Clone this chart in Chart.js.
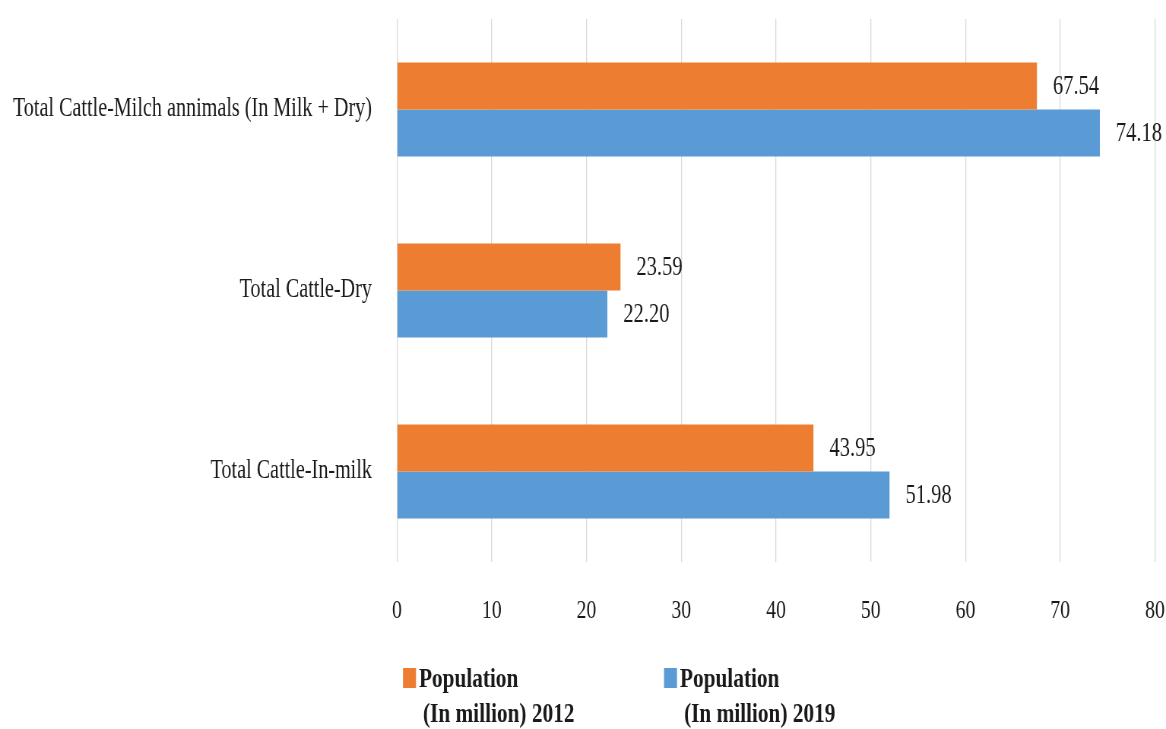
<!DOCTYPE html>
<html><head><meta charset="utf-8">
<script src="https://cdn.jsdelivr.net/npm/chart.js@4.4.0/dist/chart.umd.min.js"></script>
<style>
html,body{margin:0;padding:0;background:#fff;overflow:hidden}
#c{display:block}
</style></head><body>
<canvas id="c" width="1534" height="729" style="width:1166px;height:729px"></canvas>
<script>
const categories = ['Total Cattle-Milch annimals (In Milk + Dry)', 'Total Cattle-Dry', 'Total Cattle-In-milk'];
const population2012 = [67.54, 23.59, 43.95];
const population2019 = [74.18, 22.20, 51.98];
const seriesLabels = [['Population', '(In million) 2012'], ['Population', '(In million) 2019']];
const xTicks = [0, 10, 20, 30, 40, 50, 60, 70, 80];

const SX = 1166 / 1534; // horizontal display scale of the canvas bitmap
const TEXT = '#1a1a1a';

const valueLabels = {
  id: 'valueLabels',
  afterDatasetsDraw(chart) {
    const ctx = chart.ctx;
    ctx.save();
    ctx.font = '27px "Liberation Serif"';
    ctx.fillStyle = TEXT;
    ctx.textAlign = 'left';
    ctx.textBaseline = 'middle';
    chart.data.datasets.forEach((ds, i) => {
      chart.getDatasetMeta(i).data.forEach((el, j) => {
        ctx.fillText(ds.data[j].toFixed(2), el.x + 21, el.y + 1);
      });
    });
    ctx.restore();
  }
};

const bottomLegend = {
  id: 'bottomLegend',
  afterDraw(chart) {
    const ctx = chart.ctx;
    const starts = [403, 664];
    ctx.save();
    ctx.font = 'bold 28px "Liberation Serif"';
    ctx.textBaseline = 'alphabetic';
    chart.data.datasets.forEach((ds, i) => {
      const bx = starts[i] / SX;
      ctx.fillStyle = ds.backgroundColor;
      ctx.fillRect(bx, 668, 13 / SX, 20);
      ctx.fillStyle = TEXT;
      ctx.fillText(seriesLabels[i][0], bx + 16 / SX, 687);
      ctx.fillText(seriesLabels[i][1], bx + 20 / SX, 722);
    });
    ctx.restore();
  }
};

Chart.defaults.font.family = '"Liberation Serif", serif';

new Chart(document.getElementById('c'), {
  type: 'bar',
  data: {
    labels: categories,
    datasets: [
      { label: seriesLabels[0].join(' '), data: population2012, backgroundColor: '#ED7D31', categoryPercentage: 0.52, barPercentage: 1.0 },
      { label: seriesLabels[1].join(' '), data: population2019, backgroundColor: '#5B9BD5', categoryPercentage: 0.52, barPercentage: 1.0 }
    ]
  },
  options: {
    indexAxis: 'y',
    responsive: false,
    animation: false,
    devicePixelRatio: 1,
    layout: { padding: { top: 19, right: 1534 - 1155 / SX, left: 0, bottom: 0 } },
    plugins: { legend: { display: false }, tooltip: { enabled: false } },
    scales: {
      x: {
        min: 0, max: 80,
        afterBuildTicks: s => { s.ticks = xTicks.map(v => ({ value: v })); },
        afterFit: s => { s.height = 729 - 562; s.paddingLeft = 0; s.paddingRight = 0; },
        grid: { color: '#d9d9d9', lineWidth: 1.3, drawTicks: false },
        border: { display: false },
        ticks: { padding: 34, color: TEXT, font: { size: 26 } }
      },
      y: {
        afterFit: s => { s.width = 397 / SX; s.paddingTop = 0; s.paddingBottom = 0; },
        grid: { display: false },
        border: { display: false },
        ticks: { padding: 25, color: TEXT, font: { size: 26.5 } }
      }
    }
  },
  plugins: [valueLabels, bottomLegend]
});
</script>
</body></html>
